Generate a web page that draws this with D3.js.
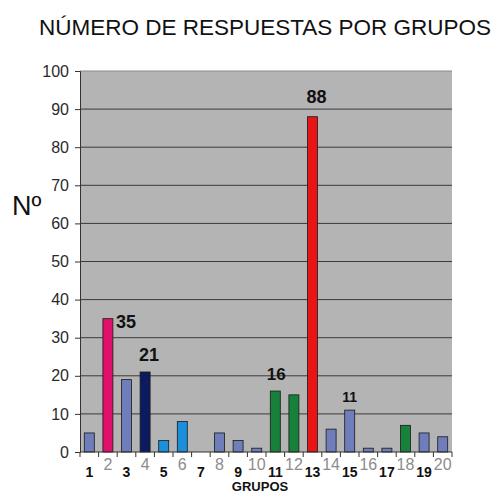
<!DOCTYPE html>
<html lang="es">
<head>
    <meta charset="utf-8">
    <script src="https://d3js.org/d3.v7.min.js"></script>
    <style>
        body { margin: 0; background: #fff; }
        text { font-family: Arial, "Liberation Sans", sans-serif; }
    </style>
</head>
<body>
<script>
    // Dataset
    const grupos = d3.range(1, 21);
    const respuestas = [5, 35, 19, 21, 3, 8, 0, 5, 3, 1, 16, 15, 88, 6, 11, 1, 1, 7, 5, 4];
    const barColors = ["#6f7dba", "#e0106c", "#6f7dba", "#0b1b5e", "#1a8fde", "#1a8fde", "#6f7dba", "#6f7dba",
                       "#6f7dba", "#6f7dba", "#17803a", "#17803a", "#e81416", "#6f7dba", "#6f7dba", "#6f7dba",
                       "#6f7dba", "#17803a", "#6f7dba", "#6f7dba"];
    const yTicks = [0, 10, 20, 30, 40, 50, 60, 70, 80, 90, 100];
    const etiquetas = [2, 4, 11, 13, 15]; // groups with a value label

    const w = 498, h = 494;
    const margin = {top: 71, right: 46, bottom: 42, left: 80};

    const svg = d3.select("body").append("svg")
        .attr("width", w)
        .attr("height", h);

    const x = d3.scaleBand()
        .domain(grupos)
        .range([margin.left, w - margin.right]);

    const y = d3.scaleLinear()
        .domain([0, 100])
        .range([h - margin.bottom, margin.top]);

    // Plot background
    svg.append("rect")
        .attr("x", margin.left)
        .attr("y", margin.top)
        .attr("width", w - margin.left - margin.right)
        .attr("height", y(0) - margin.top)
        .attr("fill", "#b4b4b4");

    // Gridlines
    svg.append("g")
        .selectAll("line")
        .data(yTicks.filter(d => d > 0 && d < 100))
        .join("line")
            .attr("x1", margin.left)
            .attr("x2", w - margin.right)
            .attr("y1", d => y(d))
            .attr("y2", d => y(d))
            .attr("stroke", "#3a3a3a")
            .attr("stroke-width", 1);

    // top edge
    svg.append("line")
        .attr("x1", margin.left).attr("x2", w - margin.right)
        .attr("y1", y(100)).attr("y2", y(100))
        .attr("stroke", "#8a8a8a");

    // Y axis
    const yAxis = svg.append("g")
        .attr("transform", `translate(${margin.left},0)`)
        .call(d3.axisLeft(y).tickValues(yTicks).tickSize(5).tickPadding(6));
    yAxis.select(".domain").attr("stroke", "#333");
    yAxis.selectAll(".tick line").attr("stroke", "#333");
    yAxis.selectAll("text")
        .attr("font-size", 16)
        .attr("fill", "#2a2a2a")
        .attr("font-family", "Arial, 'Liberation Sans', sans-serif");

    // Bars
    const bw = 10;
    svg.append("g")
        .selectAll("rect")
        .data(respuestas)
        .join("rect")
            .attr("x", (d, i) => x(grupos[i]) + x.bandwidth() / 2 - bw / 2)
            .attr("y", d => y(d))
            .attr("width", bw)
            .attr("height", d => y(0) - y(d))
            .attr("fill", (d, i) => barColors[i])
            .attr("stroke", d => d > 0 ? "#1a1a1a" : "none")
            .attr("stroke-width", 0.8);

    // X axis line and ticks at group boundaries
    const xa = svg.append("g");
    xa.append("line")
        .attr("x1", margin.left).attr("x2", w - margin.right)
        .attr("y1", y(0)).attr("y2", y(0))
        .attr("stroke", "#333");
    xa.selectAll(".tk")
        .data(grupos.concat([21]))
        .join("line")
            .attr("class", "tk")
            .attr("x1", d => d <= 20 ? x(d) : x(20) + x.bandwidth())
            .attr("x2", d => d <= 20 ? x(d) : x(20) + x.bandwidth())
            .attr("y1", y(0))
            .attr("y2", y(0) + 5)
            .attr("stroke", "#333");

    // Category labels: odd bold black, even light gray raised
    xa.selectAll(".lbl")
        .data(grupos)
        .join("text")
            .attr("class", "lbl")
            .attr("x", d => x(d) + x.bandwidth() / 2)
            .attr("y", d => d % 2 ? y(0) + 25 : y(0) + 18)
            .attr("text-anchor", "middle")
            .attr("font-size", d => d % 2 ? 14 : 16)
            .attr("font-weight", d => d % 2 ? "bold" : "normal")
            .attr("fill", d => d % 2 ? "#111" : "#8c8c8c")
            .text(d => d);

    // Value labels
    const lblStyle = {2: {dx: 8, dy: 9, fs: 18, anchor: "start"},
                      4: {dx: 4, dy: -11, fs: 18, anchor: "middle"},
                      11: {dx: 1, dy: -11, fs: 17, anchor: "middle"},
                      13: {dx: 4, dy: -14, fs: 18, anchor: "middle"},
                      15: {dx: 0, dy: -8, fs: 14, anchor: "middle"}};
    svg.append("g")
        .selectAll("text")
        .data(etiquetas)
        .join("text")
            .attr("x", g => x(g) + x.bandwidth() / 2 + lblStyle[g].dx)
            .attr("y", g => y(respuestas[g - 1]) + lblStyle[g].dy)
            .attr("text-anchor", g => lblStyle[g].anchor)
            .attr("font-size", g => lblStyle[g].fs)
            .attr("font-weight", "bold")
            .attr("fill", "#111")
            .text(g => respuestas[g - 1]);

    // Title
    svg.append("text")
        .attr("x", 265)
        .attr("y", 35)
        .attr("text-anchor", "middle")
        .attr("font-size", 22.5)
        .attr("fill", "#111")
        .text("NÚMERO DE RESPUESTAS POR GRUPOS");

    // Y axis title
    svg.append("text")
        .attr("x", 12)
        .attr("y", 215)
        .attr("font-size", 27)
        .attr("fill", "#111")
        .text("Nº");

    // X axis title
    svg.append("text")
        .attr("x", 260)
        .attr("y", 491)
        .attr("text-anchor", "middle")
        .attr("font-size", 13)
        .attr("font-weight", "bold")
        .attr("fill", "#111")
        .text("GRUPOS");
</script>
</body>
</html>
